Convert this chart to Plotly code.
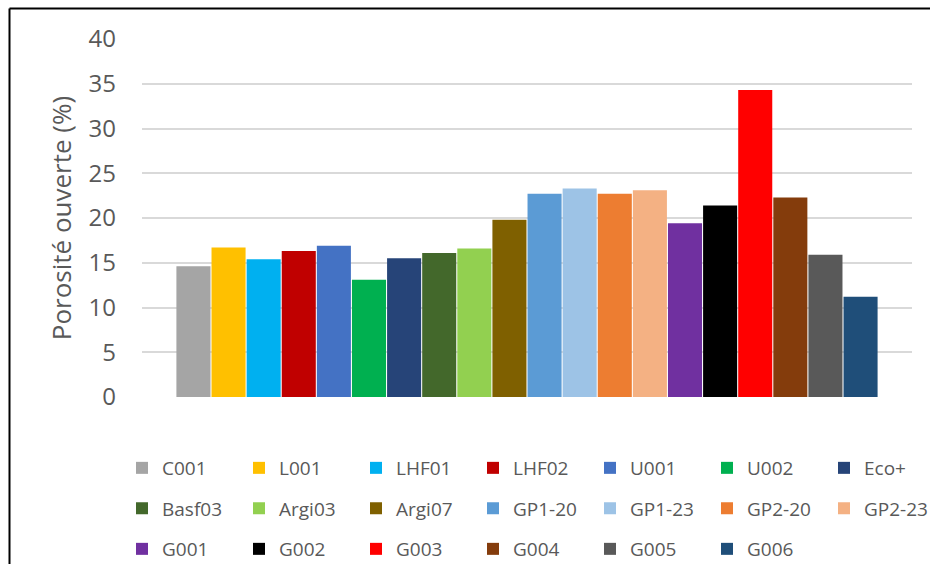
import plotly.graph_objects as go

# ---- data ----
samples = ["C001", "L001", "LHF01", "LHF02", "U001", "U002", "Eco+",
           "Basf03", "Argi03", "Argi07", "GP1-20", "GP1-23", "GP2-20", "GP2-23",
           "G001", "G002", "G003", "G004", "G005", "G006"]
porosity = [14.6, 16.7, 15.4, 16.3, 16.9, 13.1, 15.5,
            16.1, 16.6, 19.8, 22.7, 23.3, 22.7, 23.1,
            19.4, 21.4, 34.3, 22.3, 15.9, 11.2]
colors = ["#A5A5A5", "#FFC000", "#00B0F0", "#C00000", "#4472C4", "#00B050", "#264478",
          "#43682B", "#92D050", "#7F6000", "#5B9BD5", "#9DC3E6", "#ED7D31", "#F4B183",
          "#7030A0", "#000000", "#FF0000", "#843C0C", "#595959", "#1F4E79"]
category = ["Porosité ouverte"]
y_ticks = [0, 5, 10, 15, 20, 25, 30, 35, 40]
# legend grid: 3 rows x 7 columns (7th column kept in its own legend box)
legend_of = (["legend"] * 6 + ["legend2"] +
             ["legend3"] * 6 + ["legend4"] +
             ["legend5"] * 6)

FONT = "Open Sans"
GREY = "#595959"

fig = go.Figure()
for name, val, col, lg in zip(samples, porosity, colors, legend_of):
    fig.add_trace(go.Bar(
        x=category, y=[val], name=name, legend=lg,
        marker=dict(color=col, line=dict(width=0)),
    ))

W, H = 930, 564
COLW = 117
X0 = 122
ROWS = [468, 508.5, 549]


def leg(xpx, ypx, ew):
    return dict(orientation="h", xref="container", yref="container",
                xanchor="left", yanchor="middle", x=xpx / W, y=(H - ypx) / H,
                entrywidth=ew, entrywidthmode="pixels",
                bgcolor="rgba(0,0,0,0)", borderwidth=0,
                font=dict(family=FONT, size=19, color=GREY))


fig.update_layout(
    width=W, height=H,
    margin=dict(l=142, r=18, t=39, b=167),
    paper_bgcolor="white", plot_bgcolor="white",
    barmode="group", bargap=0.088, bargroupgap=0.03,
    font=dict(family=FONT, color=GREY),
    xaxis=dict(showticklabels=False, showgrid=False, zeroline=False,
               showline=False, ticks=""),
    yaxis=dict(range=[0, 40], tickvals=y_ticks, showgrid=True,
               gridcolor="#D9D9D9", gridwidth=1.5, zeroline=False,
               showline=False, ticks="", ticklabelstandoff=25,
               tickfont=dict(family=FONT, size=24, color=GREY),
               title=dict(text="Porosité ouverte (%)", standoff=9,
                          font=dict(family=FONT, size=26, color=GREY))),
    legend=leg(X0, ROWS[0], COLW - 45),
    legend2=leg(X0 + 6 * COLW, ROWS[0], 0),
    legend3=leg(X0, ROWS[1], COLW - 45),
    legend4=leg(X0 + 6 * COLW, ROWS[1], 0),
    legend5=leg(X0, ROWS[2], COLW - 45),
    showlegend=True,
)

# outer frame (cropped on right and bottom)
fig.add_shape(type="line", xref="paper", yref="paper",
              x0=(9.5 - 142) / 770, x1=(940 - 142) / 770,
              y0=(397 - 8.5) / 358, y1=(397 - 8.5) / 358,
              line=dict(color="black", width=2))
fig.add_shape(type="line", xref="paper", yref="paper",
              x0=(9.5 - 142) / 770, x1=(9.5 - 142) / 770,
              y0=(397 - 8.5) / 358, y1=(397 - 580) / 358,
              line=dict(color="black", width=2))

fig.write_html("out.html",
               config={"displayModeBar": False},
               post_script="document.body.style.margin='0';"
                           "document.body.style.overflow='hidden';")
